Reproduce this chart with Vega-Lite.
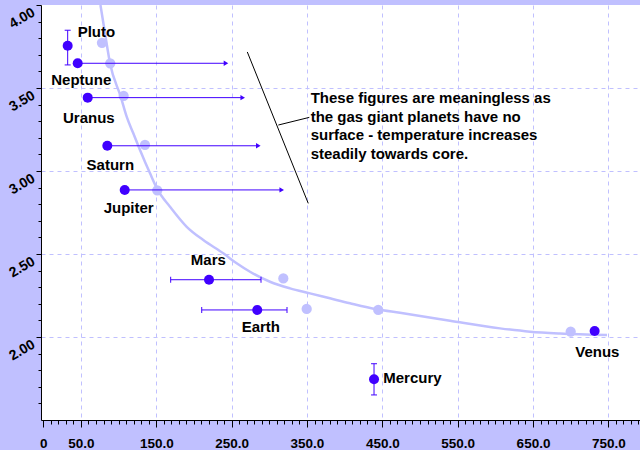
{
  "$schema": "https://vega.github.io/schema/vega-lite/v6.json",
  "autosize": {"type": "none"},
  "padding": {"left": 41, "top": 5, "right": 0, "bottom": 30},
  "width": 599,
  "height": 415,
  "background": "#c0c0ff",
  "config": {
    "view": {"stroke": null, "fill": "white"},
    "text": {"font": "Liberation Sans", "fontWeight": "bold", "fontSize": 15, "color": "black"}
  },
  "datasets": {
    "curve": [
      {"x": 75.9, "y": 4.0}, {"x": 81.9, "y": 3.831}, {"x": 88.6, "y": 3.649}, {"x": 102.8, "y": 3.448},
      {"x": 110.7, "y": 3.327}, {"x": 119.5, "y": 3.227}, {"x": 128.4, "y": 3.127}, {"x": 141.7, "y": 2.986},
      {"x": 151.9, "y": 2.886}, {"x": 168.2, "y": 2.785}, {"x": 190.4, "y": 2.664}, {"x": 212.4, "y": 2.584},
      {"x": 238.9, "y": 2.504}, {"x": 256.7, "y": 2.444}, {"x": 274.4, "y": 2.393}, {"x": 300.9, "y": 2.333},
      {"x": 327.5, "y": 2.293}, {"x": 354, "y": 2.263}, {"x": 380.5, "y": 2.233}, {"x": 407.1, "y": 2.203},
      {"x": 442.5, "y": 2.167}, {"x": 473.4, "y": 2.146}, {"x": 539.8, "y": 2.098}, {"x": 606.2, "y": 2.052},
      {"x": 646, "y": 2.032}, {"x": 685.8, "y": 2.021}, {"x": 748.2, "y": 2.012}
    ],
    "light": [
      {"planet": "Pluto", "x": 77.9, "y": 3.772},
      {"planet": "Neptune", "x": 88.9, "y": 3.649},
      {"planet": "Uranus", "x": 106.7, "y": 3.452},
      {"planet": "Saturn", "x": 135, "y": 3.158},
      {"planet": "Jupiter", "x": 151.3, "y": 2.884},
      {"planet": "Mars", "x": 318.6, "y": 2.353},
      {"planet": "Earth", "x": 349.6, "y": 2.169},
      {"planet": "Mercury", "x": 444.6, "y": 2.163},
      {"planet": "Venus", "x": 700, "y": 2.032}
    ],
    "dark": [
      {"planet": "Pluto", "x": 32.4, "y": 3.755},
      {"planet": "Neptune", "x": 45.7, "y": 3.649},
      {"planet": "Uranus", "x": 59, "y": 3.442},
      {"planet": "Saturn", "x": 85, "y": 3.152},
      {"planet": "Jupiter", "x": 108.1, "y": 2.886},
      {"planet": "Mars", "x": 220, "y": 2.345},
      {"planet": "Earth", "x": 284, "y": 2.163},
      {"planet": "Mercury", "x": 439, "y": 1.745},
      {"planet": "Venus", "x": 731.8, "y": 2.036}
    ],
    "xerr": [
      {"planet": "Mars", "x": 169.1, "x2": 289, "y": 2.345},
      {"planet": "Earth", "x": 210.3, "x2": 323.5, "y": 2.163}
    ],
    "yerr": [
      {"planet": "Pluto", "x": 32.4, "y": 3.639, "y2": 3.848},
      {"planet": "Mercury", "x": 439, "y": 1.651, "y2": 1.839}
    ],
    "arrows": [
      {"planet": "Neptune", "x": 45.7, "x2": 242.5, "y": 3.649},
      {"planet": "Uranus", "x": 59, "x2": 264.7, "y": 3.442},
      {"planet": "Saturn", "x": 85, "x2": 285.4, "y": 3.152},
      {"planet": "Jupiter", "x": 108.1, "x2": 316.5, "y": 2.886}
    ],
    "labels": [
      {"planet": "Pluto", "x": 70.5, "y": 3.839},
      {"planet": "Neptune", "x": 50.4, "y": 3.548},
      {"planet": "Uranus", "x": 60.5, "y": 3.317},
      {"planet": "Saturn", "x": 89, "y": 3.036},
      {"planet": "Jupiter", "x": 113.3, "y": 2.775},
      {"planet": "Mars", "x": 219.1, "y": 2.464},
      {"planet": "Earth", "x": 288.8, "y": 2.058},
      {"planet": "Mercury", "x": 490, "y": 1.751},
      {"planet": "Venus", "x": 735.4, "y": 1.908}
    ],
    "annot": [
      {"x": 270.8, "y": 3.717, "x2": 351.7, "y2": 2.805},
      {"x": 312, "y": 3.277, "x2": 353.1, "y2": 3.323}
    ],
    "note": [
      {"x": 354.9, "y": 3.48, "text": "These figures are meaningless as\nthe gas giant planets have no\nsurface - temperature increases\nsteadily towards core."}
    ]
  },
  "encoding": {
    "x": {"field": "x", "type": "quantitative", "scale": {"domain": [-3, 792], "nice": false, "zero": false}, "axis": null},
    "y": {"field": "y", "type": "quantitative", "scale": {"domain": [1.5, 4], "nice": false, "zero": false}, "axis": null}
  },
  "layer": [
    {
      "data": {"name": "curve"},
      "mark": {"type": "line", "color": "#c0c0ff", "strokeWidth": 2.5, "interpolate": "monotone", "clip": true},
      "encoding": {
        "x": {"field": "x", "type": "quantitative", "scale": {"domain": [-3, 792], "nice": false, "zero": false},
          "axis": {"orient": "bottom", "title": null,
            "values": [0, 50, 150, 250, 350, 450, 550, 650, 750],
            "labelExpr": "datum.value === 0 ? '0' : format(datum.value, '.1f')",
            "grid": true, "gridColor": "#c0c0ff", "gridDash": [4, 4], "gridWidth": 1,
            "gridOpacity": {"condition": {"test": "datum.value === 0", "value": 0}, "value": 1},
            "domainColor": "black", "domainWidth": 1, "tickColor": "black", "tickSize": 7, "tickWidth": 1,
            "labelFont": "Liberation Sans", "labelFontWeight": "bold", "labelFontSize": 13.5, "labelColor": "black",
            "labelPadding": 9, "labelFlush": false, "labelOverlap": false}},
        "y": {"field": "y", "type": "quantitative", "scale": {"domain": [1.5, 4], "nice": false, "zero": false},
          "axis": {"orient": "left", "title": null,
            "values": [2, 2.5, 3, 3.5, 4], "format": ".2f",
            "grid": true, "gridColor": "#c0c0ff", "gridDash": [4, 4], "gridWidth": 1,
            "gridOpacity": {"condition": {"test": "datum.value === 4", "value": 0}, "value": 1},
            "domainColor": "black", "domainWidth": 1, "tickColor": "black", "tickSize": 5, "tickWidth": 1,
            "labelFont": "Liberation Sans", "labelFontWeight": "bold", "labelFontSize": 14, "labelColor": "black",
            "labelAngle": -30, "labelAlign": "right", "labelBaseline": "top", "labelPadding": 6,
            "labelFlush": false, "labelOverlap": false}}
      }
    },
    {
      "data": {"name": "light"},
      "mark": {"type": "point", "shape": "circle", "filled": true, "opacity": 1, "color": "#c0c0ff", "size": 105},
      "encoding": {
        "x": {"field": "x", "type": "quantitative", "scale": {"domain": [-3, 792], "nice": false, "zero": false},
          "axis": {"orient": "bottom", "title": null, "labels": false, "grid": false, "domain": false,
            "values": [0,10,20,30,40,50,60,70,80,90,100,110,120,130,140,150,160,170,180,190,200,210,220,230,240,250,260,270,280,290,300,310,320,330,340,350,360,370,380,390,400,410,420,430,440,450,460,470,480,490,500,510,520,530,540,550,560,570,580,590,600,610,620,630,640,650,660,670,680,690,700,710,720,730,740,750,760,770,780,790],
            "tickColor": "black", "tickSize": 4, "tickWidth": 1}},
        "y": {"field": "y", "type": "quantitative", "scale": {"domain": [1.5, 4], "nice": false, "zero": false},
          "axis": {"orient": "left", "title": null, "labels": false, "grid": false, "domain": false,
            "values": [1.6,1.7,1.8,1.9,2.0,2.1,2.2,2.3,2.4,2.5,2.6,2.7,2.8,2.9,3.0,3.1,3.2,3.3,3.4,3.5,3.6,3.7,3.8,3.9],
            "tickColor": "black", "tickSize": 3, "tickWidth": 1}}
      }
    },
    {
      "data": {"name": "arrows"},
      "mark": {"type": "rule", "color": "#4000ff", "strokeWidth": 1},
      "encoding": {"x2": {"field": "x2"}}
    },
    {
      "data": {"name": "arrows"},
      "mark": {"type": "point", "shape": "triangle-right", "filled": true, "opacity": 1, "color": "#4000ff", "size": 28},
      "encoding": {
        "x": {"field": "x2", "type": "quantitative", "scale": {"domain": [-3, 792], "nice": false, "zero": false}, "axis": null}
      }
    },
    {
      "data": {"name": "xerr"},
      "mark": {"type": "rule", "color": "#4000ff", "strokeWidth": 1},
      "encoding": {"x2": {"field": "x2"}}
    },
    {
      "data": {"name": "xerr"},
      "mark": {"type": "tick", "orient": "vertical", "color": "#4000ff", "size": 6, "thickness": 1, "opacity": 1}
    },
    {
      "data": {"name": "xerr"},
      "mark": {"type": "tick", "orient": "vertical", "color": "#4000ff", "size": 6, "thickness": 1, "opacity": 1},
      "encoding": {
        "x": {"field": "x2", "type": "quantitative", "scale": {"domain": [-3, 792], "nice": false, "zero": false}, "axis": null}
      }
    },
    {
      "data": {"name": "yerr"},
      "mark": {"type": "rule", "color": "#4000ff", "strokeWidth": 1},
      "encoding": {"y2": {"field": "y2"}}
    },
    {
      "data": {"name": "yerr"},
      "mark": {"type": "tick", "orient": "horizontal", "color": "#4000ff", "size": 6, "thickness": 1, "opacity": 1}
    },
    {
      "data": {"name": "yerr"},
      "mark": {"type": "tick", "orient": "horizontal", "color": "#4000ff", "size": 6, "thickness": 1, "opacity": 1},
      "encoding": {
        "y": {"field": "y2", "type": "quantitative", "scale": {"domain": [1.5, 4], "nice": false, "zero": false}, "axis": null}
      }
    },
    {
      "data": {"name": "dark"},
      "mark": {"type": "point", "shape": "circle", "filled": true, "opacity": 1, "color": "#4000ff", "size": 100}
    },
    {
      "data": {"name": "annot"},
      "mark": {"type": "rule", "color": "black", "strokeWidth": 1},
      "encoding": {"x2": {"field": "x2"}, "y2": {"field": "y2"}}
    },
    {
      "data": {"name": "labels"},
      "mark": {"type": "text", "align": "center", "baseline": "middle"},
      "encoding": {"text": {"field": "planet"}}
    },
    {
      "data": {"name": "note"},
      "mark": {"type": "text", "align": "left", "baseline": "top", "lineBreak": "\n", "lineHeight": 18.5},
      "encoding": {"text": {"field": "text"}}
    }
  ],
  "resolve": {"axis": {"x": "independent", "y": "independent"}}
}
